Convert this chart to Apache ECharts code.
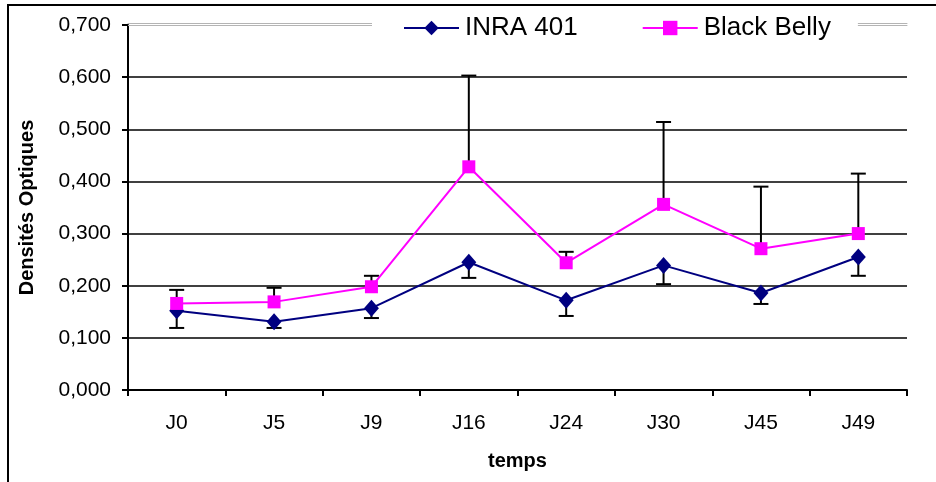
<!DOCTYPE html>
<html><head><meta charset="utf-8">
<script src="https://cdn.jsdelivr.net/npm/echarts@6/dist/echarts.min.js"></script>
<style>html,body{margin:0;padding:0;background:#fff}#c{width:936px;height:482px}</style>
</head><body><div id="c"></div>
<script>
var categories = ['J0','J5','J9','J16','J24','J30','J45','J49'];
var inraValues = [0.152, 0.131, 0.157, 0.245, 0.172, 0.239, 0.186, 0.255];
var inraErrMinus = [0.033, 0.012, 0.019, 0.030, 0.030, 0.036, 0.021, 0.036];
var bbValues = [0.166, 0.169, 0.198, 0.428, 0.244, 0.356, 0.271, 0.300];
var bbErrPlus = [0.026, 0.027, 0.021, 0.175, 0.021, 0.158, 0.119, 0.115];
var yTicks = {min: 0, max: 0.7, interval: 0.1};

var FONT = 'Liberation Sans, Arial, sans-serif';
var chart = echarts.init(document.getElementById('c'), null, {renderer: 'canvas'});

function errData(vals, errs, dir) {
  return vals.map(function (v, i) { return [i, v, v + dir * errs[i]]; });
}
function renderErr(params, api) {
  var x = api.value(0);
  var p0 = api.coord([x, api.value(1)]);
  var p1 = api.coord([x, api.value(2)]);
  var hw = 7.5;
  var st = {stroke: '#000', lineWidth: 2};
  return {type: 'group', children: [
    {type: 'line', shape: {x1: p0[0], y1: p0[1], x2: p1[0], y2: p1[1]}, style: st},
    {type: 'line', shape: {x1: p1[0] - hw, y1: p1[1], x2: p1[0] + hw, y2: p1[1]}, style: st}
  ]};
}

var option = {
  animation: false,
  backgroundColor: '#fff',
  textStyle: {fontFamily: FONT},
  grid: {left: 128, right: 29, top: 25, bottom: 92, containLabel: false},
  graphic: [{type: 'rect', shape: {x: 8, y: 5, width: 1000, height: 1000}, style: {fill: 'none', stroke: '#000', lineWidth: 2}, z: 100}],
  legend: {
    data: ['INRA 401', 'Black Belly'],
    left: 372, top: 11,
    backgroundColor: '#fff',
    padding: [4, 27, 4, 31],
    itemWidth: 55, itemHeight: 18, itemGap: 64,
    textStyle: {fontFamily: FONT, fontSize: 26, color: '#000', padding: [0, 0, 0, 1]},
    z: 50
  },
  xAxis: [{
    type: 'category', data: categories, boundaryGap: true,
    axisLine: {lineStyle: {color: '#000', width: 2}},
    axisTick: {show: true, length: 6, lineStyle: {color: '#000', width: 2}},
    axisLabel: {color: '#000', fontSize: 21, fontFamily: FONT, margin: 23},
    name: 'temps', nameLocation: 'middle', nameGap: 61,
    nameTextStyle: {fontFamily: FONT, fontSize: 20, fontWeight: 'bold', color: '#000'}
  }, {
    type: 'category', data: categories, position: 'top', offset: 0,
    axisLine: {lineStyle: {color: '#b4b4b4', width: 1}}, axisTick: {show: false}, axisLabel: {show: false}
  }, {
    type: 'category', data: categories, position: 'top', offset: 2,
    axisLine: {lineStyle: {color: '#b4b4b4', width: 1}}, axisTick: {show: false}, axisLabel: {show: false}
  }],
  yAxis: {
    type: 'value', min: yTicks.min, max: yTicks.max, interval: yTicks.interval,
    axisLine: {show: true, lineStyle: {color: '#000', width: 2}},
    axisTick: {show: true, length: 6, lineStyle: {color: '#000', width: 2}},
    axisLabel: {color: '#000', fontSize: 21, fontFamily: FONT, margin: 17,
      formatter: function (v) { return v.toFixed(3).replace('.', ','); }},
    splitLine: {show: true, showMinLine: false, showMaxLine: false, lineStyle: {color: '#000', width: 1.5}},
    name: 'Densités Optiques', nameLocation: 'middle', nameGap: 91,
    nameTextStyle: {fontFamily: FONT, fontSize: 20, fontWeight: 'bold', color: '#000'}
  },
  series: [
    {type: 'custom', name: 'errInra', renderItem: renderErr, data: errData(inraValues, inraErrMinus, -1), z: 1, silent: true},
    {type: 'custom', name: 'errBB', renderItem: renderErr, data: errData(bbValues, bbErrPlus, 1), z: 1, silent: true},
    {type: 'line', name: 'INRA 401', data: inraValues, symbol: 'diamond', symbolSize: [15, 17],
      lineStyle: {color: '#000080', width: 2}, itemStyle: {color: '#000080'}, z: 3},
    {type: 'line', name: 'Black Belly', data: bbValues, symbol: 'rect', symbolSize: 13,
      lineStyle: {color: '#ff00ff', width: 2}, itemStyle: {color: '#ff00ff'}, z: 4}
  ]
};
chart.setOption(option);
</script></body></html>
